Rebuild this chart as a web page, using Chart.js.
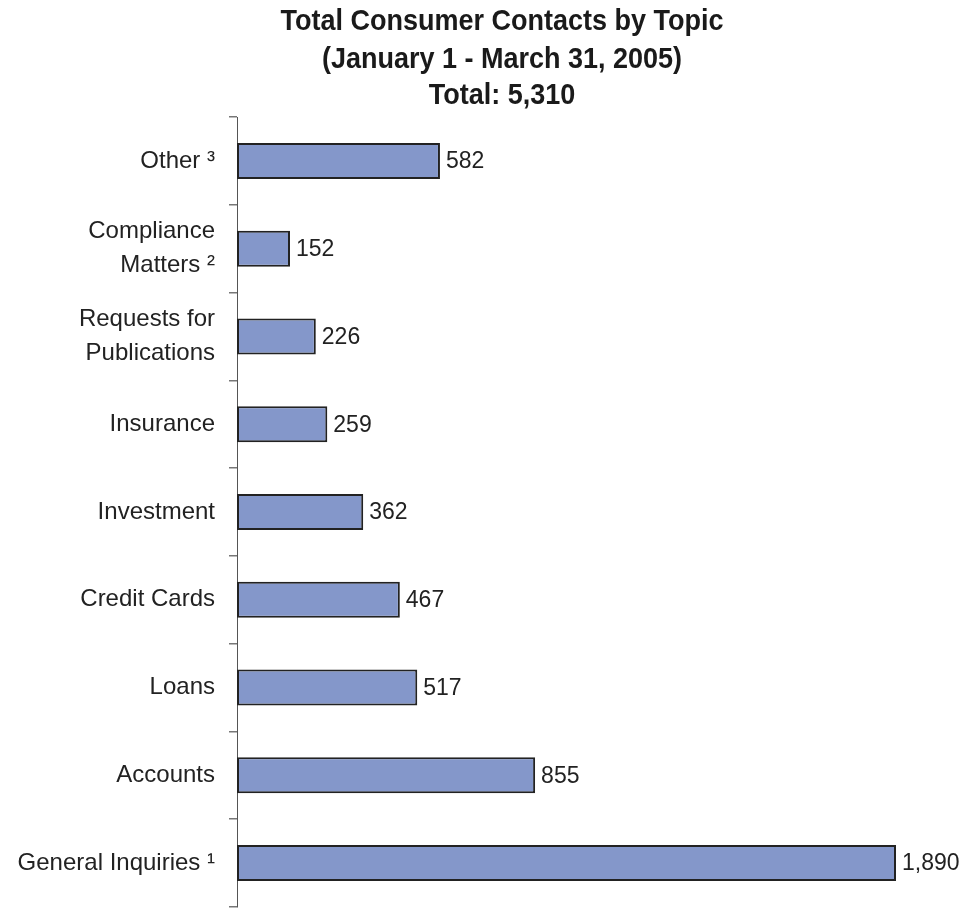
<!DOCTYPE html>
<html>
<head>
<meta charset="utf-8">
<script src="https://cdn.jsdelivr.net/npm/chart.js@4.4.1/dist/chart.umd.min.js"></script>
<style>
html,body{margin:0;padding:0;background:#fff;}
#wrap{width:971px;height:909px;position:relative;}
</style>
</head>
<body>
<div id="wrap"><canvas id="c" width="971" height="909"></canvas></div>
<script>
const titleLines = ["Total Consumer Contacts by Topic", "(January 1 - March 31, 2005)", "Total: 5,310"];
const categories = [
  ["Other \u00b3"],
  ["Compliance", "Matters \u00b2"],
  ["Requests for", "Publications"],
  ["Insurance"],
  ["Investment"],
  ["Credit Cards"],
  ["Loans"],
  ["Accounts"],
  ["General Inquiries \u00b9"]
];
const contacts = [582, 152, 226, 259, 362, 467, 517, 855, 1890];

const titlePlugin = {
  id: 'customTitle',
  afterDraw(chart) {
    const ctx = chart.ctx;
    ctx.save();
    ctx.fillStyle = '#1a1a1a';
    ctx.font = 'bold 30px "Liberation Sans", Arial, sans-serif';
    ctx.textAlign = 'center';
    ctx.textBaseline = 'alphabetic';
    const ys = [30, 68, 104];
    const cx = 502, sx = 0.9;
    titleLines.forEach((t, i) => {
      ctx.save();
      ctx.translate(cx, ys[i]);
      ctx.scale(sx, 1);
      ctx.fillText(t, 0, 0);
      ctx.restore();
    });
    ctx.restore();
  }
};

const valueLabels = {
  id: 'valueLabels',
  afterDatasetsDraw(chart) {
    const ctx = chart.ctx;
    const meta = chart.getDatasetMeta(0);
    ctx.save();
    ctx.fillStyle = '#222';
    ctx.font = '23px "Liberation Sans", Arial, sans-serif';
    ctx.textAlign = 'left';
    ctx.textBaseline = 'middle';
    meta.data.forEach((bar, i) => {
      ctx.fillText(contacts[i].toLocaleString('en-US'), bar.x + 6, bar.y + 1);
    });
    ctx.restore();
  }
};

new Chart(document.getElementById('c'), {
  type: 'bar',
  data: {
    labels: categories,
    datasets: [{
      data: contacts,
      backgroundColor: '#8497CA',
      borderColor: '#222',
      borderWidth: 2,
      borderSkipped: false,
      barPercentage: 0.41,
      categoryPercentage: 1
    }]
  },
  options: {
    indexAxis: 'y',
    responsive: false,
    animation: false,
    layout: { padding: { top: 117, right: 75, bottom: 2, left: 0 } },
    plugins: { legend: { display: false }, title: { display: false }, tooltip: { enabled: false } },
    scales: {
      x: { display: false, min: 0, max: Math.max(...contacts) },
      y: {
        afterFit(scale) { scale.width = 237; scale.paddingTop = 0; scale.paddingBottom = 0; },
        border: { display: true, color: '#555', width: 1 },
        grid: { display: true, offset: true, drawOnChartArea: false, tickLength: 8, color: '#777', lineWidth: 1.5 },
        ticks: {
          color: '#222',
          padding: 14,
          font: { size: 24, family: '"Liberation Sans", Arial, sans-serif', lineHeight: 1.4 }
        }
      }
    }
  },
  plugins: [titlePlugin, valueLabels]
});
</script>
</body>
</html>
